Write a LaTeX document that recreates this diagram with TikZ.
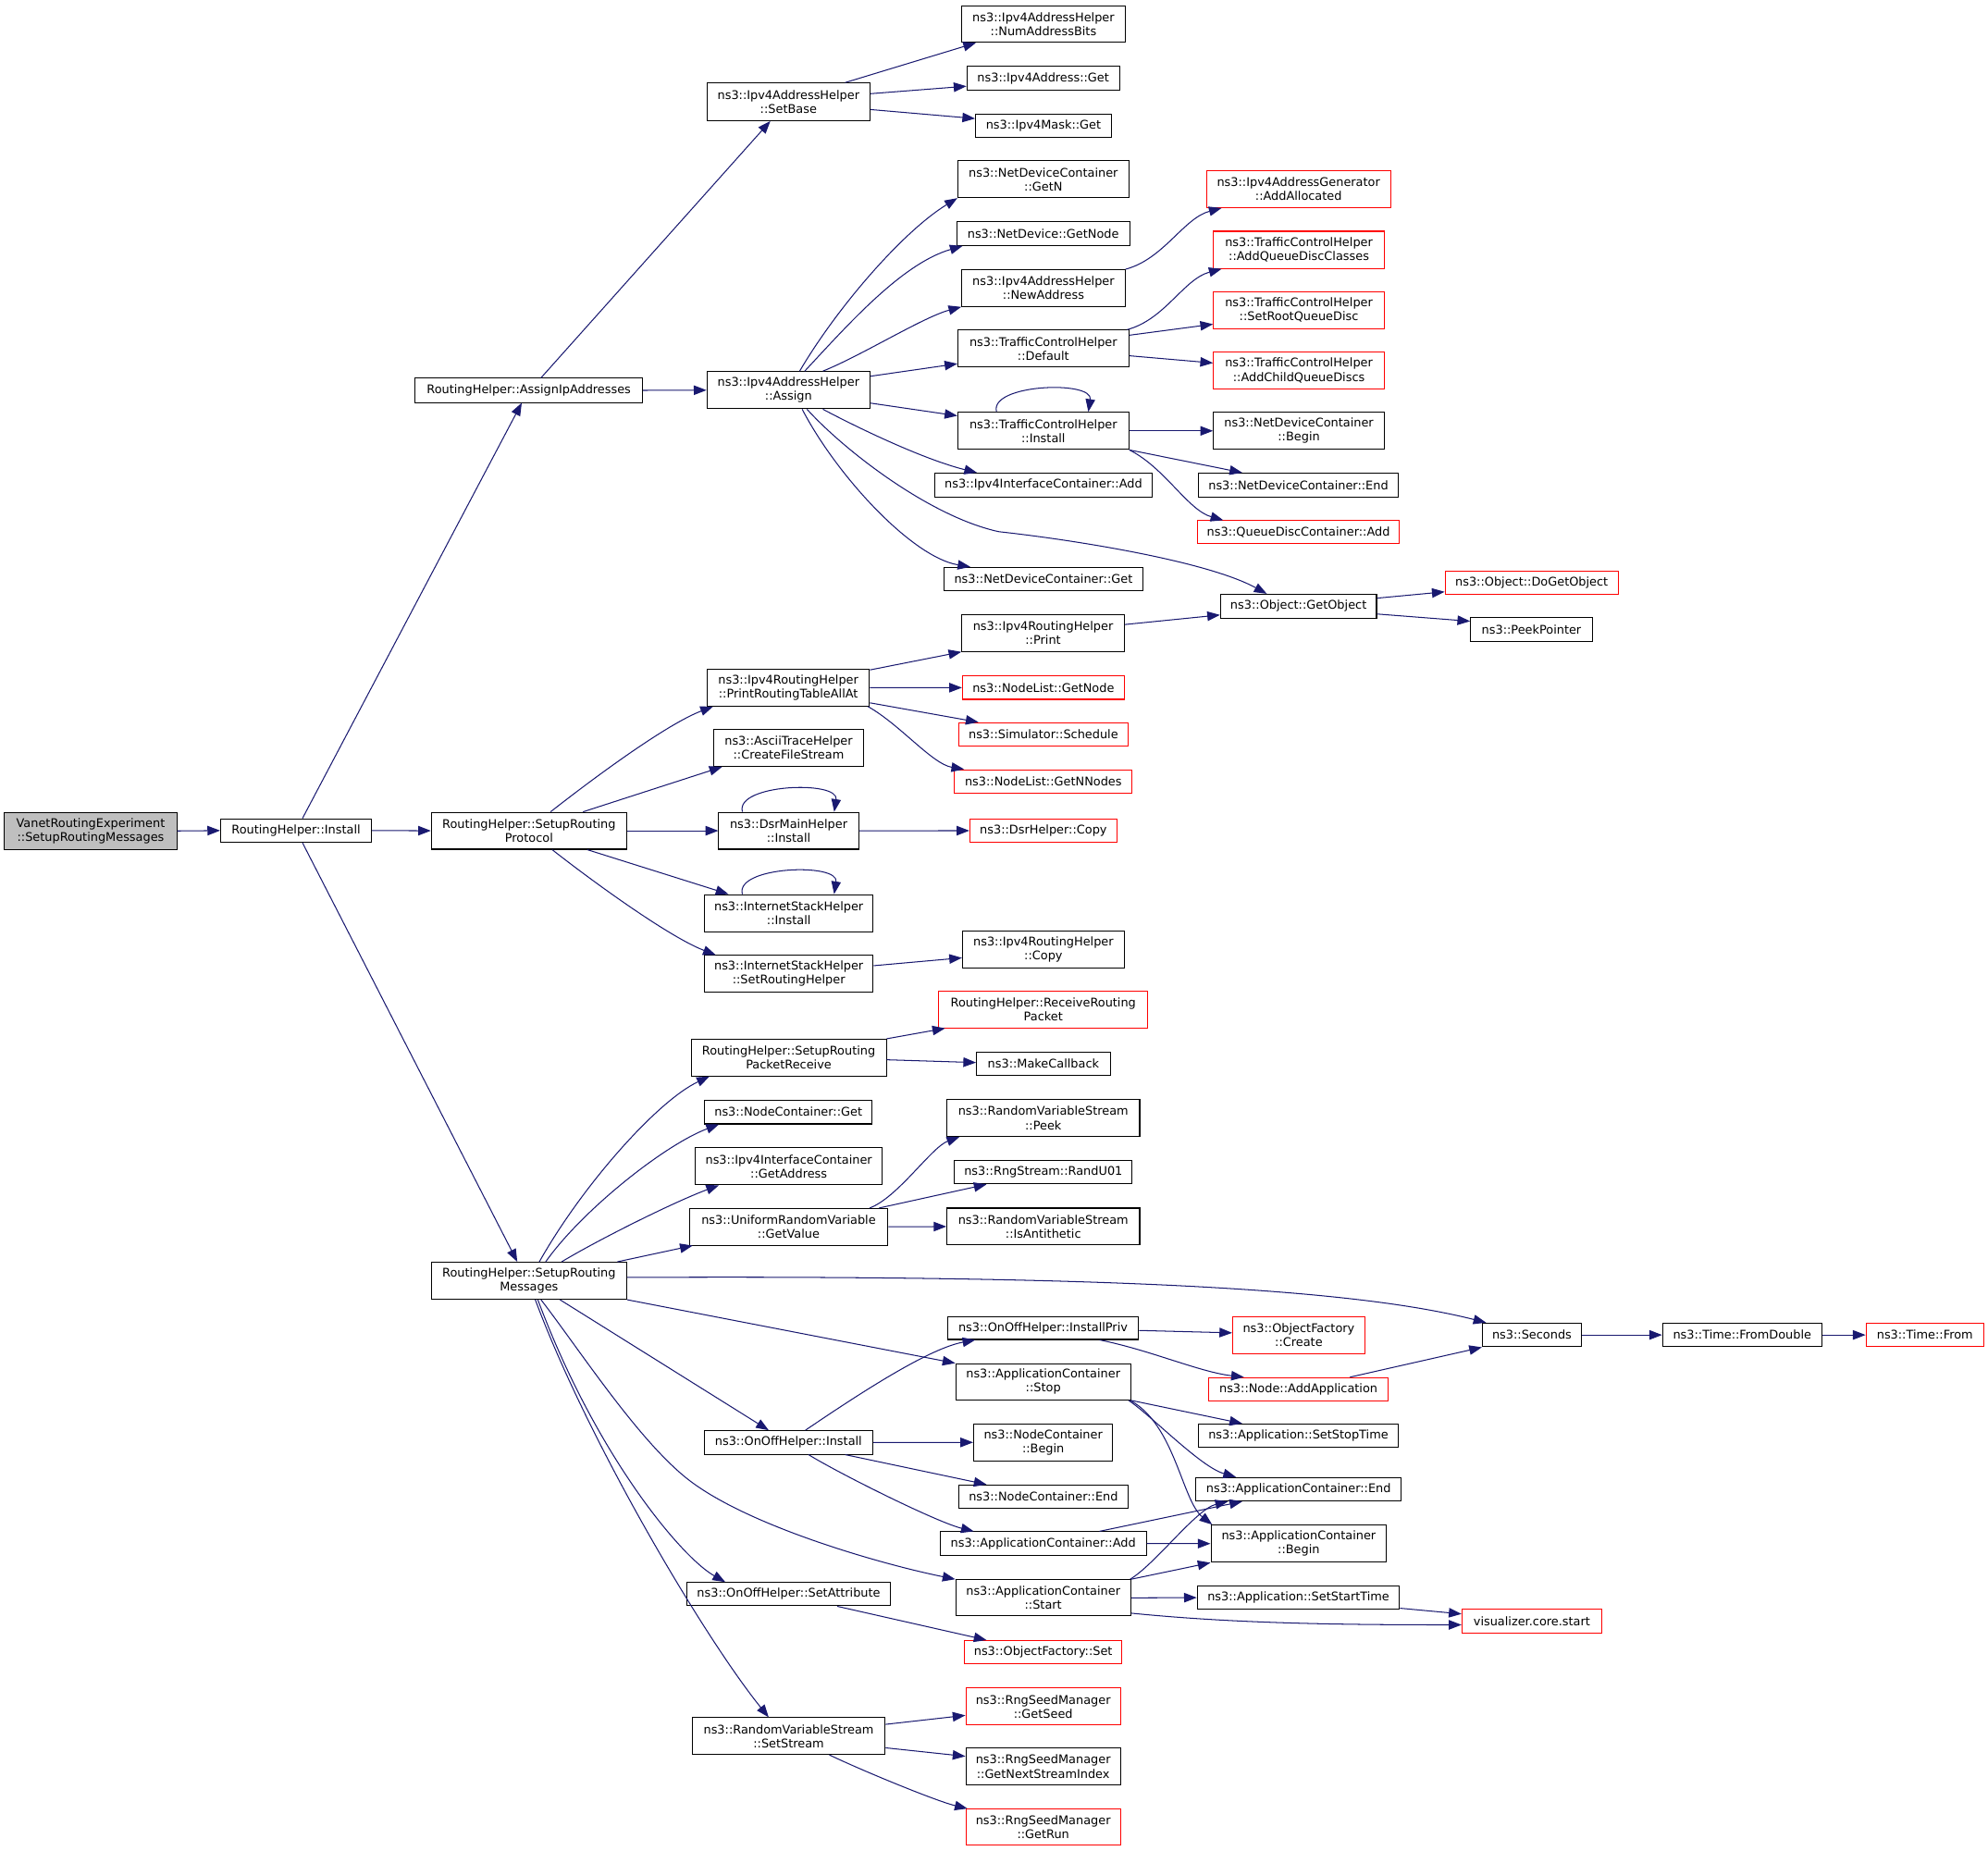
\documentclass[tikz,border=0pt]{standalone}
\usepackage{fontspec}
\newfontfamily\dvs{DejaVu Sans}
\usetikzlibrary{arrows.meta}
\definecolor{edgeblue}{HTML}{191970}
\definecolor{greyfill}{HTML}{BFBFBF}
\definecolor{redline}{HTML}{FF0000}
\newcommand\ndfont{\dvs\fontsize{9.4}{11}\selectfont}
\tikzset{
  box/.style={draw=black, line width=0.75pt, fill=white, inner sep=0pt, align=center, font=\ndfont},
  redbox/.style={box, draw=redline},
  greybox/.style={box, fill=greyfill},
  conn/.style={draw=edgeblue, line width=0.75pt, -{Triangle[length=10pt,width=7.5pt]}}
}
\begin{document}
\begin{tikzpicture}[x=1pt,y=-1pt]
\fill[white] (0,0) rectangle (1568,1460);
\useasboundingbox (0,0) rectangle (1568,1460);

% nodes
\node[greybox,minimum width=136pt,minimum height=29.3pt] (vre) at (71.5,655.4) {VanetRoutingExperiment\\::SetupRoutingMessages};
\node[box,minimum width=119pt,minimum height=18.6pt] (rhi) at (233.5,655.1) {RoutingHelper::Install};
\node[box,minimum width=179.4pt,minimum height=19pt] (aip) at (417.1,307.9) {RoutingHelper::AssignIpAddresses};
\node[box,minimum width=128.6pt,minimum height=29.6pt] (setbase) at (621.9,80.3) {ns3::Ipv4AddressHelper\\::SetBase};
\node[box,minimum width=128.6pt,minimum height=29.3pt] (assign) at (621.9,307.75) {ns3::Ipv4AddressHelper\\::Assign};
\node[box,minimum width=128.9pt,minimum height=29pt] (numbits) at (823,18.9) {ns3::Ipv4AddressHelper\\::NumAddressBits};
\node[box,minimum width=120.4pt,minimum height=18.7pt] (addrget) at (822.8,61.75) {ns3::Ipv4Address::Get};
\node[box,minimum width=107.1pt,minimum height=18.4pt] (maskget) at (823,99) {ns3::Ipv4Mask::Get};
\node[box,minimum width=134.9pt,minimum height=29pt] (getn) at (822.9,141.4) {ns3::NetDeviceContainer\\::GetN};
\node[box,minimum width=136.4pt,minimum height=18.7pt] (ndgetnode) at (822.8,184.25) {ns3::NetDevice::GetNode};
\node[box,minimum width=128.9pt,minimum height=29pt] (newaddr) at (823,227.2) {ns3::Ipv4AddressHelper\\::NewAddress};
\node[box,minimum width=134.9pt,minimum height=29pt] (tcdefault) at (822.9,274.9) {ns3::TrafficControlHelper\\::Default};
\node[box,minimum width=134.9pt,minimum height=29.3pt] (tcinstall) at (822.9,339.85) {ns3::TrafficControlHelper\\::Install};
\node[box,minimum width=171.3pt,minimum height=18.8pt] (ifcadd) at (823,382.6) {ns3::Ipv4InterfaceContainer::Add};
\node[box,minimum width=157.1pt,minimum height=18.7pt] (ndcget) at (823,456.85) {ns3::NetDeviceContainer::Get};
\node[redbox,minimum width=145.2pt,minimum height=29pt] (addalloc) at (1024.2,149.2) {ns3::Ipv4AddressGenerator\\::AddAllocated};
\node[redbox,minimum width=134.7pt,minimum height=29.3pt] (addqdc) at (1024.45,197.05) {ns3::TrafficControlHelper\\::AddQueueDiscClasses};
\node[redbox,minimum width=134.7pt,minimum height=29pt] (setroot) at (1024.45,244.6) {ns3::TrafficControlHelper\\::SetRootQueueDisc};
\node[redbox,minimum width=134.7pt,minimum height=29.3pt] (addchild) at (1024.45,292.15) {ns3::TrafficControlHelper\\::AddChildQueueDiscs};
\node[box,minimum width=134.7pt,minimum height=29.3pt] (ndcbegin) at (1024.45,339.85) {ns3::NetDeviceContainer\\::Begin};
\node[box,minimum width=158.1pt,minimum height=18.8pt] (ndcend) at (1024.05,382.6) {ns3::NetDeviceContainer::End};
\node[redbox,minimum width=159.6pt,minimum height=18.3pt] (qdcadd) at (1024.1,419.85) {ns3::QueueDiscContainer::Add};
\node[box,minimum width=123.1pt,minimum height=18.7pt] (getobj) at (1024.15,478.05) {ns3::Object::GetObject};
\node[redbox,minimum width=136.5pt,minimum height=18.5pt] (dogetobj) at (1208.05,459.45) {ns3::Object::DoGetObject};
\node[box,minimum width=96pt,minimum height=18.7pt] (peekptr) at (1207.9,496.35) {ns3::PeekPointer};
\node[box,minimum width=127.9pt,minimum height=29.1pt] (printall) at (621.75,542.35) {ns3::Ipv4RoutingHelper\\::PrintRoutingTableAllAt};
\node[box,minimum width=118.8pt,minimum height=29.2pt] (ascii) at (622,589.9) {ns3::AsciiTraceHelper\\::CreateFileStream};
\node[box,minimum width=154.1pt,minimum height=29.1pt] (srp) at (417.25,655.25) {RoutingHelper::SetupRouting\\Protocol};
\node[box,minimum width=110.3pt,minimum height=29.1pt] (dsrinst) at (622.05,655.25) {ns3::DsrMainHelper\\::Install};
\node[box,minimum width=133.1pt,minimum height=29.3pt] (ishinst) at (622.15,720.25) {ns3::InternetStackHelper\\::Install};
\node[box,minimum width=133.1pt,minimum height=29pt] (ishsrh) at (622.15,768.1) {ns3::InternetStackHelper\\::SetRoutingHelper};
\node[box,minimum width=153.9pt,minimum height=29pt] (srpr) at (622.05,834.2) {RoutingHelper::SetupRouting\\PacketReceive};
\node[box,minimum width=132.4pt,minimum height=18.8pt] (ncget) at (621.8,877.1) {ns3::NodeContainer::Get};
\node[box,minimum width=147.7pt,minimum height=29.1pt] (getaddr) at (622.15,919.95) {ns3::Ipv4InterfaceContainer\\::GetAddress};
\node[box,minimum width=156.6pt,minimum height=28.9pt] (urvget) at (622,967.65) {ns3::UniformRandomVariable\\::GetValue};
\node[box,minimum width=128.2pt,minimum height=29pt] (rhprint) at (822.7,499.3) {ns3::Ipv4RoutingHelper\\::Print};
\node[redbox,minimum width=127.7pt,minimum height=18.4pt] (nlgetnode) at (822.95,542.4) {ns3::NodeList::GetNode};
\node[redbox,minimum width=133.7pt,minimum height=18.7pt] (schedule) at (822.95,579.35) {ns3::Simulator::Schedule};
\node[redbox,minimum width=140.2pt,minimum height=18.4pt] (getnnodes) at (822.9,616.3) {ns3::NodeList::GetNNodes};
\node[redbox,minimum width=116.1pt,minimum height=18.4pt] (dsrcopy) at (822.95,655.2) {ns3::DsrHelper::Copy};
\node[box,minimum width=127.7pt,minimum height=29pt] (rhcopy) at (822.95,748.8) {ns3::Ipv4RoutingHelper\\::Copy};
\node[redbox,minimum width=164.7pt,minimum height=29pt] (recvpkt) at (822.85,796.2) {RoutingHelper::ReceiveRouting\\Packet};
\node[box,minimum width=105.5pt,minimum height=18.4pt] (makecb) at (822.95,839.2) {ns3::MakeCallback};
\node[box,minimum width=152.1pt,minimum height=29pt] (peek) at (822.85,881.9) {ns3::RandomVariableStream\\::Peek};
\node[box,minimum width=140.2pt,minimum height=18.4pt] (randu01) at (822.9,924.6) {ns3::RngStream::RandU01};
\node[box,minimum width=152.1pt,minimum height=29.1pt] (antithetic) at (822.85,967.45) {ns3::RandomVariableStream\\::IsAntithetic};
\node[box,minimum width=154.1pt,minimum height=29.2pt] (srm) at (417.25,1010.2) {RoutingHelper::SetupRouting\\Messages};
\node[box,minimum width=133.2pt,minimum height=18.5pt] (onoffinst) at (621.9,1137.75) {ns3::OnOffHelper::Install};
\node[box,minimum width=160.5pt,minimum height=18.4pt] (setattr) at (622.05,1257.4) {ns3::OnOffHelper::SetAttribute};
\node[box,minimum width=152.1pt,minimum height=28.9pt] (setstream) at (622.05,1369.35) {ns3::RandomVariableStream\\::SetStream};
\node[box,minimum width=150.7pt,minimum height=18.1pt] (installpriv) at (822.65,1047.45) {ns3::OnOffHelper::InstallPriv};
\node[box,minimum width=138pt,minimum height=28.6pt] (acstop) at (822.8,1089.9) {ns3::ApplicationContainer\\::Stop};
\node[box,minimum width=109.8pt,minimum height=29pt] (ncbegin) at (822.8,1137.7) {ns3::NodeContainer\\::Begin};
\node[box,minimum width=133.7pt,minimum height=18.4pt] (ncend) at (822.95,1180.5) {ns3::NodeContainer::End};
\node[box,minimum width=162.6pt,minimum height=18.4pt] (acadd) at (822.8,1217.4) {ns3::ApplicationContainer::Add};
\node[box,minimum width=138pt,minimum height=28.6pt] (acstart) at (822.8,1260.3) {ns3::ApplicationContainer\\::Start};
\node[redbox,minimum width=124.4pt,minimum height=18.2pt] (ofset) at (822.8,1303.1) {ns3::ObjectFactory::Set};
\node[redbox,minimum width=122pt,minimum height=29pt] (getseed) at (822.8,1346) {ns3::RngSeedManager\\::GetSeed};
\node[box,minimum width=122pt,minimum height=28.9pt] (getnsi) at (822.8,1393.35) {ns3::RngSeedManager\\::GetNextStreamIndex};
\node[redbox,minimum width=122pt,minimum height=28.6pt] (getrun) at (822.8,1441.2) {ns3::RngSeedManager\\::GetRun};
\node[redbox,minimum width=104.3pt,minimum height=29.2pt] (ofcreate) at (1024.35,1053) {ns3::ObjectFactory\\::Create};
\node[redbox,minimum width=141.4pt,minimum height=18.5pt] (addapp) at (1024.1,1095.85) {ns3::Node::AddApplication};
\node[box,minimum width=158.1pt,minimum height=18.5pt] (setstop) at (1024.05,1132.45) {ns3::Application::SetStopTime};
\node[box,minimum width=161.8pt,minimum height=18.5pt] (acend) at (1024.2,1174.65) {ns3::ApplicationContainer::End};
\node[box,minimum width=138.4pt,minimum height=29.3pt] (acbegin) at (1024.3,1217.55) {ns3::ApplicationContainer\\::Begin};
\node[box,minimum width=159.6pt,minimum height=18.5pt] (setstart) at (1024.1,1260.15) {ns3::Application::SetStartTime};
\node[redbox,minimum width=110.2pt,minimum height=18.7pt] (vizstart) at (1208.2,1278.75) {visualizer.core.start};
\node[box,minimum width=78.1pt,minimum height=18.7pt] (seconds) at (1208.25,1052.95) {ns3::Seconds};
\node[box,minimum width=125.6pt,minimum height=18.7pt] (fromdouble) at (1374.1,1052.95) {ns3::Time::FromDouble};
\node[redbox,minimum width=92.8pt,minimum height=18.7pt] (timefrom) at (1518.2,1052.95) {ns3::Time::From};

% edges
\draw[conn] (vre.east) -- (rhi.west);
\draw[conn] ([xshift=5.1pt]rhi.north) -- ([xshift=-5.6pt]aip.south);
\draw[conn] (rhi.east) -- (srp.west);
\draw[conn] ([xshift=5.1pt]rhi.south) -- ([xshift=-9.25pt]srm.north);
\draw[conn] ([xshift=9.6pt]aip.north) -- ([xshift=-14.3pt]setbase.south);
\draw[conn] (aip.east) -- (assign.west);
\draw[conn] ([xshift=44.7pt]setbase.north) -- ([xshift=11.6pt]numbits.south west);
\draw[conn] ([yshift=6.4pt]setbase.east) -- ([yshift=-6.25pt]addrget.west);
\draw[conn] ([yshift=-6.1pt]setbase.east) -- ([yshift=5.5pt]maskget.west);
\draw[conn] ([xshift=8.8pt]assign.north) .. controls +(30,-51) and +(-42.5,26) .. (getn.south west);
\draw[conn] ([xshift=12.8pt]assign.north) .. controls +(34,-36.5) and +(-48,14) .. ([xshift=5pt]ndgetnode.south west);
\draw[conn] ([xshift=27.1pt]assign.north) .. controls +(30,-12) and +(-30,8) .. (newaddr.south west);
\draw[conn] ([yshift=11pt]assign.east) -- ([yshift=-12pt]tcdefault.west);
\draw[conn] ([yshift=-10.2pt]assign.east) -- ([yshift=11.9pt]tcinstall.west);
\draw[conn] ([xshift=27.1pt]assign.south) .. controls +(35.6,18.8) and +(-38.8,-9.6) .. ([xshift=33.6pt]ifcadd.north west);
\draw[conn] ([xshift=14.6pt]assign.south) .. controls +(30.2,33.3) and +(-53.7,-11.5) .. (788,419.4) .. controls +(52,5.6) and +(-49.1,-26.7) .. ([xshift=-25pt]getobj.north);
\draw[conn] ([xshift=10.8pt]assign.south) .. controls +(27.3,52.6) and +(-45.8,-7.5) .. ([xshift=21.3pt]ndcget.north west);
\draw[conn] (newaddr.north east) .. controls +(30,-8) and +(-30,8) .. ([xshift=12.3pt]addalloc.south west);
\draw[conn] ([xshift=-1.8pt]tcdefault.north east) .. controls +(30,-8) and +(-30,8) .. ([xshift=6.8pt]addqdc.south west);
\draw[conn] ([yshift=10.5pt]tcdefault.east) -- ([yshift=-11.1pt]setroot.west);
\draw[conn] ([yshift=-5.7pt]tcdefault.east) -- ([yshift=5.85pt]addchild.west);
\draw[conn] ([xshift=-36.9pt]tcinstall.north) .. controls +(-6,-22) and +(4,-25) .. ([xshift=35.5pt]tcinstall.north);
\draw[conn] (tcinstall.east) -- (ndcbegin.west);
\draw[conn] (tcinstall.south east) -- ([xshift=35.2pt]ndcend.north west);
\draw[conn] (tcinstall.south east) .. controls +(28,14) and +(-28,-8) .. ([xshift=20.9pt]qdcadd.north west);
\draw[conn] ([yshift=6.25pt]getobj.east) -- ([yshift=-7.35pt]dogetobj.west);
\draw[conn] ([yshift=-6.25pt]getobj.east) -- ([yshift=6.35pt]peekptr.west);
\draw[conn] ([yshift=6.7pt]rhprint.east) -- ([yshift=-7pt]getobj.west);
\draw[conn] ([yshift=-1pt]printall.north east) -- (rhprint.south west);
\draw[conn] (printall.east) -- (nlgetnode.west);
\draw[conn] ([yshift=-12pt]printall.east) -- ([xshift=16pt]schedule.north west);
\draw[conn] ([xshift=-1.5pt]printall.south east) .. controls +(25,14) and +(-25,-4) .. ([xshift=8pt]getnnodes.north west);
\draw[conn] ([xshift=17pt]srp.north) .. controls +(31.6,-24.8) and +(-37.4,14.2) .. ([xshift=5pt]printall.south west);
\draw[conn] ([xshift=42.6pt]srp.north) -- ([xshift=7.3pt]ascii.south west);
\draw[conn] (srp.east) -- (dsrinst.west);
\draw[conn] ([xshift=45.9pt]srp.south) -- ([xshift=19.3pt]ishinst.north west);
\draw[conn] ([xshift=18.25pt]srp.south) .. controls +(31.6,24.8) and +(-37.2,-14.4) .. ([xshift=9.3pt]ishsrh.north west);
\draw[conn] ([xshift=-36.5pt]dsrinst.north) .. controls +(-6,-22) and +(4,-25) .. ([xshift=35.9pt]dsrinst.north);
\draw[conn] (dsrinst.east) -- (dsrcopy.west);
\draw[conn] ([xshift=-36.65pt]ishinst.north) .. controls +(-6,-22) and +(4,-25) .. ([xshift=35.75pt]ishinst.north);
\draw[conn] ([yshift=6.4pt]ishsrh.east) -- ([yshift=-6.7pt]rhcopy.west);
\draw[conn] ([xshift=8.15pt]srm.north) .. controls +(34.3,-60.9) and +(-40.5,18.9) .. ([xshift=14.8pt]srpr.south west);
\draw[conn] ([xshift=13.15pt]srm.north) .. controls +(29,-41) and +(-42.3,15.8) .. ([xshift=11.8pt]ncget.south west);
\draw[conn] ([xshift=25.75pt]srm.north) .. controls +(30,-18) and +(-35,13) .. ([xshift=19.1pt]getaddr.south west);
\draw[conn] ([xshift=69.75pt]srm.north) -- ([xshift=3pt]urvget.south west);
\draw[conn] ([yshift=2.6pt]srm.east) .. controls +(355.7,-1.6) and +(-112.5,-28.6) .. ([xshift=3.3pt]seconds.north west);
\draw[conn] (srm.south east) -- (acstop.north west);
\draw[conn] ([xshift=24.45pt]srm.south) -- ([xshift=-15.6pt]onoffinst.north);
\draw[conn] ([xshift=9.45pt]srm.south) .. controls +(30.5,39.5) and +(-40,-30) .. (544.8,1168.5) .. controls +(48,36) and +(-58.8,-12) .. (acstart.north west);
\draw[conn] ([xshift=6.95pt]srm.south) .. controls +(45.5,122.2) and +(-34.8,-19.6) .. ([xshift=30.6pt]setattr.north west);
\draw[conn] ([xshift=4.95pt]srm.south) .. controls +(42,112.8) and +(-50.4,-62.4) .. ([xshift=-15.75pt]setstream.north);
\draw[conn] ([xshift=13.3pt]onoffinst.north) .. controls +(33.2,-22.4) and +(-39.2,7.2) .. ([xshift=22.3pt]installpriv.south west);
\draw[conn] (onoffinst.east) -- (ncbegin.west);
\draw[conn] ([xshift=44.7pt]onoffinst.south) -- ([xshift=22.4pt]ncend.north west);
\draw[conn] ([xshift=15.8pt]onoffinst.south) .. controls +(25.5,15.6) and +(-29.1,-7.2) .. ([xshift=26.9pt]acadd.north west);
\draw[conn] ([yshift=-1.95pt]installpriv.east) -- ([yshift=1.7pt]ofcreate.west);
\draw[conn] ([xshift=44.55pt]installpriv.south) .. controls +(40,8) and +(-35,-4) .. ([xshift=28.1pt]addapp.north west);
\draw[conn] ([xshift=-30.4pt]addapp.north east) -- (seconds.south west);
\draw[conn] (seconds.east) -- (fromdouble.west);
\draw[conn] (fromdouble.east) -- (timefrom.west);
\draw[conn] (acstop.south east) -- ([xshift=35.2pt]setstop.north west);
\draw[conn] ([xshift=-2pt]acstop.south east) .. controls +(18,12) and +(-28,-8) .. ([xshift=31.9pt]acend.north west);
\draw[conn] ([xshift=-0.8pt]acstop.south east) .. controls +(35.2,18.8) and +(-23.7,-18.6) .. ([xshift=1.3pt]acbegin.north west);
\draw[conn] ([xshift=44.4pt]acadd.north) -- ([xshift=36.9pt]acend.south west);
\draw[conn] (acadd.east) -- (acbegin.west);
\draw[conn] ([xshift=-0.8pt]acstart.north east) .. controls +(20,-12) and +(-25,6) .. ([xshift=25.6pt]acend.south west);
\draw[conn] (acstart.north east) -- (acbegin.south west);
\draw[conn] (acstart.east) -- (setstart.west);
\draw[conn] ([yshift=-12.1pt]acstart.east) .. controls +(80,8) and +(-100,0) .. ([yshift=-2.85pt]vizstart.west);
\draw[conn] ([yshift=-8.35pt]setstart.east) -- ([yshift=5.75pt]vizstart.west);
\draw[conn] ([xshift=38.25pt]setattr.south) -- ([xshift=17.9pt]ofset.north west);
\draw[conn] ([yshift=9.25pt]setstream.east) -- ([yshift=-7pt]getseed.west);
\draw[conn] ([yshift=-9.25pt]setstream.east) -- ([yshift=8.05pt]getnsi.west);
\draw[conn] ([xshift=32.05pt]setstream.south) .. controls +(25,12) and +(-25,-6) .. ([xshift=1.6pt]getrun.north west);
\draw[conn] ([xshift=-14.8pt]urvget.north east) .. controls +(22,-8) and +(-22,8) .. ([xshift=10.3pt]peek.south west);
\draw[conn] ([xshift=-7.3pt]urvget.north east) -- ([xshift=25.7pt]randu01.south west);
\draw[conn] (urvget.east) -- (antithetic.west);
\draw[conn] (srpr.north east) -- ([xshift=5.3pt]recvpkt.south west);
\draw[conn] ([yshift=-1.7pt]srpr.east) -- ([yshift=1.1pt]makecb.west);
\end{tikzpicture}
\end{document}
